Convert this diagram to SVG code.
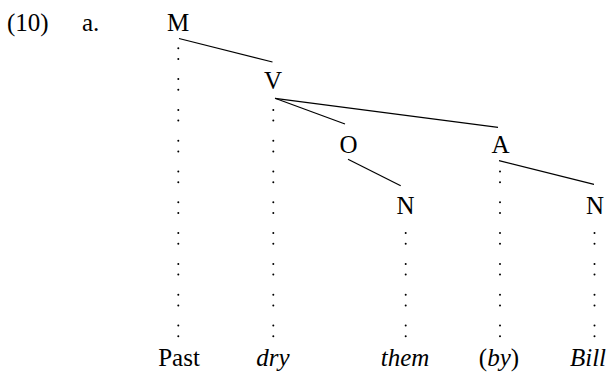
<svg xmlns="http://www.w3.org/2000/svg" width="616" height="374" viewBox="0 0 616 374">
<style>
text{font-family:"Liberation Serif","Times New Roman",serif;font-size:25px;fill:#000}
.c{text-anchor:middle}
.i{font-style:italic}
.edge{stroke:#000;stroke-width:1.2;fill:none}
.dots{stroke:#000;stroke-width:2;fill:none;stroke-linecap:round;stroke-dasharray:0 10.7 0 20.1}
</style>
<rect width="616" height="374" fill="#fff"/>
<g id="label">
<text x="7" y="31">(10)</text>
<text x="82" y="31">a.</text>
</g>
<g id="connectors">
<line class="edge" x1="179" y1="38.5" x2="272.5" y2="62"/>
<line class="edge" x1="275" y1="98.3" x2="345" y2="124"/>
<line class="edge" x1="275" y1="98.3" x2="498" y2="127.3"/>
<line class="edge" x1="348" y1="159.3" x2="400.7" y2="185.7"/>
<line class="edge" x1="499" y1="160.7" x2="594" y2="184.3"/>
<path class="dots" d="M178.3 48.3V336.8"/>
<path class="dots" d="M273.3 109.9V336.8"/>
<path class="dots" d="M500 171.5V336.8"/>
<path class="dots" d="M405.7 233.1V336.8"/>
<path class="dots" d="M594.5 233.1V336.8"/>
</g>
<g id="node-M"><text class="c" x="178" y="30.5">M</text></g>
<g id="node-V"><text class="c" x="273" y="89.3">V</text></g>
<g id="node-O"><text class="c" x="348.5" y="152.8">O</text></g>
<g id="node-A"><text class="c" x="500.5" y="153">A</text></g>
<g id="node-N1"><text class="c" x="405.5" y="214">N</text></g>
<g id="node-N2"><text class="c" x="595" y="214">N</text></g>
<g id="word-past"><text class="c" x="179" y="366">Past</text></g>
<g id="word-dry"><text class="c i" x="273" y="366">dry</text></g>
<g id="word-them"><text class="c i" x="405" y="366">them</text></g>
<g id="word-by"><text class="c" x="499" y="366">(<tspan class="i">by</tspan>)</text></g>
<g id="word-bill"><text class="c i" x="588" y="366">Bill</text></g>
</svg>
